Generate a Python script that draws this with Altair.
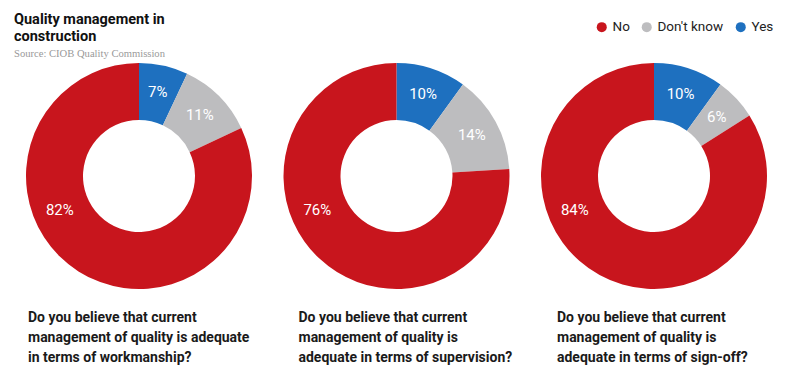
import altair as alt
import pandas as pd

# ---------------- data ----------------
qkeys = ["Q1", "Q2", "Q3"]
questions = [
    "Do you believe that current\nmanagement of quality is adequate\nin terms of workmanship?",
    "Do you believe that current\nmanagement of quality is\nadequate in terms of supervision?",
    "Do you believe that current\nmanagement of quality is\nadequate in terms of sign-off?",
]
slice_order = ["Yes", "Don't know", "No"]          # clockwise from 12 o'clock
yes_pct = [7, 10, 10]
dont_know_pct = [11, 14, 6]
no_pct = [82, 76, 84]
legend_order = ["No", "Don't know", "Yes"]

# ---------------- styles ----------------
colors = ["#C8151D", "#BDBDBF", "#1E70BF"]
FONT = "Roboto"
q_dx = [-111, -98, -97]

series = {"Yes": yes_pct, "Don't know": dont_know_pct, "No": no_pct}
rows = []
for qi, (qk, q) in enumerate(zip(qkeys, questions)):
    for oi, cat in enumerate(slice_order):
        v = series[cat][qi]
        rows.append({"qkey": qk, "question": q, "category": cat,
                     "order": oi, "value": v, "label": f"{v}%"})
df = pd.DataFrame(rows)

x_enc = alt.X("qkey:N", axis=None,
              scale=alt.Scale(type="point", domain=qkeys, range=[131, 646], padding=0))
theta_scale = alt.Scale(domain=[0, 100], range=[0, 6.283185307179586])
CY = 108

base = alt.Chart(df).transform_window(
    cum="sum(value)", groupby=["qkey"], sort=[alt.SortField("order")]
).transform_calculate(
    start="datum.cum - datum.value",
    mid="datum.category === 'No' ? 68.6 : datum.cum - datum.value / 2",
)

arcs = base.mark_arc(innerRadius=56, outerRadius=113).encode(
    x=x_enc,
    y=alt.value(CY),
    theta=alt.Theta("start:Q", scale=theta_scale, stack=False),
    theta2="cum:Q",
    color=alt.Color(
        "category:N",
        scale=alt.Scale(domain=legend_order, range=colors),
        legend=alt.Legend(
            title=None, orient="none", direction="horizontal",
            legendX=587, legendY=-48, symbolType="circle", symbolSize=100,
            symbolStrokeWidth=0, labelFont=FONT, labelFontSize=13.5,
            labelColor="#222222", labelOffset=4, columnPadding=10, padding=0,
        ),
    ),
    tooltip=["category:N", "value:Q"],
)

labels = base.mark_text(radius=86, font=FONT, fontSize=15, color="white",
                        align="center", baseline="middle").encode(
    x=x_enc,
    y=alt.value(CY),
    theta=alt.Theta("mid:Q", scale=theta_scale, stack=False),
    text="label:N",
)

layers = [arcs, labels]
for qk, dx in zip(qkeys, q_dx):
    layers.append(
        alt.Chart(df).transform_filter(
            f"datum.qkey === '{qk}' && datum.category === 'No'"
        ).mark_text(
            align="left", baseline="alphabetic", dx=dx, lineBreak="\n",
            lineHeight=20, font=FONT, fontSize=14, fontWeight="bold",
            color="#1a1a1a",
        ).encode(x=x_enc, y=alt.value(254), text="question:N")
    )

chart = alt.layer(*layers).properties(
    width=784,
    height=303,
    padding={"left": 0, "top": 60, "right": 0, "bottom": 0},
    autosize=alt.AutoSizeParams(type="none"),
    title=alt.TitleParams(
        text=["Quality management in", "construction"],
        subtitle="Source: CIOB Quality Commission",
        anchor="start", orient="top", frame="group", dx=6, offset=-41,
        font=FONT, fontSize=14.5, fontWeight="bold", lineHeight=17, color="#111111",
        subtitleFont="Liberation Serif", subtitleFontSize=10.6,
        subtitleColor="#999999", subtitlePadding=5,
    ),
).configure_view(stroke=None)

chart.save("out.html", embed_options={"renderer": "svg", "actions": False})
